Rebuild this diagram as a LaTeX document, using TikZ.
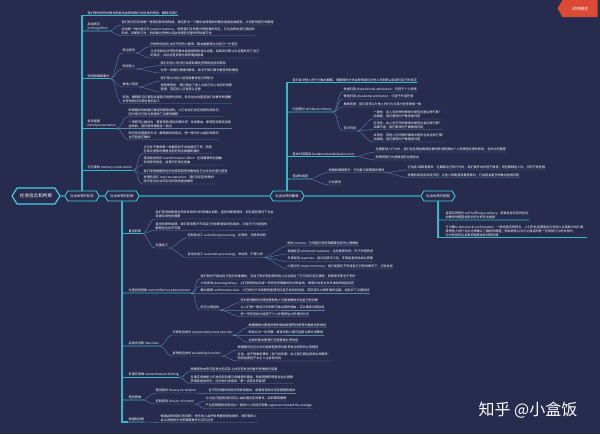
\documentclass[tikz,border=0pt]{standalone}
\usepackage{fontspec}
\setmainfont{Noto Sans CJK SC}
\usetikzlibrary{shapes.symbols}
\definecolor{navy}{HTML}{272C4F}
\definecolor{lead}{HTML}{36B8C8}
\definecolor{rim}{HTML}{45D3E3}
\definecolor{twigc}{HTML}{5C82A6}
\definecolor{tagred}{HTML}{DB4A35}
\tikzset{
  hexa/.style={signal, signal to=east and west, signal pointer angle=115, draw=rim, line width=0.8pt, fill=navy, text=white, font=\fontsize{3.3}{4}\selectfont, inner xsep=2.5pt, inner ysep=1pt, minimum height=10pt, minimum width=31pt},
  rootnode/.style={hexa, font=\fontsize{4.6}{5.5}\selectfont, minimum height=16pt, minimum width=48pt, line width=1.1pt},
  lbl/.style={anchor=south west, inner xsep=0.5pt, inner ysep=0.8pt, text=white!90, font=\fontsize{3.1}{4}\selectfont, align=left},
  trunk/.style={draw=lead, line width=1.1pt},
  stem/.style={draw=lead, line width=0.55pt, rounded corners=1.5pt, to path={|- (\tikztotarget.south west) -- (\tikztotarget.south east)}},
  link/.style={draw=twigc, line width=0.4pt, to path={.. controls +(6,0) and +(-6,0) .. (\tikztotarget.south west) -- (\tikztotarget.south east)}}}

\begin{document}
\begin{tikzpicture}[x=1pt, y=-1pt]
\useasboundingbox (0,0) rectangle (600,434);
\fill[navy] (0,0) rectangle (600,434);

\node[rootnode] (root) at (36,196) {社会信念和判断};
\node[hexa] (n1) at (82,196) {社会世界的知觉};
\node[hexa] (n2) at (122,196) {社会世界的判断};
\node[hexa] (n3) at (287,196) {社会世界的解释};
\node[hexa] (n4) at (438,196) {社会世界的预期};
\draw[trunk] (root) -- (n1) -- (n2) -- (n3) -- (n4);

\node[lbl] (t0) at (87,15.5) {我们预先持有的假设和信念会影响我们对信息的知觉、解释与回忆};
\node[lbl] (p1) at (87,31) {启动效应\\priming effect};
\node[lbl] (p1a) at (121,25) {我们的记忆系统是一张相互联系的网络，激活其中一个概念会使相关的概念更容易被提取，从而影响我们的解释};
\node[lbl] (p1b) at (121,35.7) {启动是一种内隐记忆 implicit memory，即使我们没有意识到刺激的存在，它也会影响我们随后的\\知觉、判断和行为，例如看过恐怖片后会觉得房间里的声响更可怕};
\node[lbl] (p2) at (87,78.5) {知觉和解释事件};
\node[lbl] (s1) at (122,53) {政治知觉};
\node[lbl] (s1a) at (150,46.5) {同样的信息在立场不同的人看来，都会被解读为对自己一方有利};
\node[lbl] (s1b) at (150,58) {让支持和反对死刑的被试阅读相同的混合证据，结果双方都认为证据支持了自己\\的观点，并且态度变得比原来更加极端};
\node[lbl] (s2) at (122,69) {知觉他人};
\node[lbl] (s2a) at (160,65.5) {我们对他人的评价会受到事先获得的信息的影响};
\node[lbl] (s2b) at (160,73) {对同一张面孔表情的解读，取决于我们事先被告知的情境};
\node[lbl] (s3) at (122,87) {被他人知觉};
\node[lbl] (s3a) at (160,81) {我们常以为别人能轻易看穿自己的想法};
\node[lbl] (s3b) at (160,92) {透明度错觉：我们高估了他人对自己内心状态的觉察\\程度，其实别人没有那么在意};
\node[lbl] (s4) at (122,103.5) {知觉、解释和记忆都包含着我们的预先判断，信念往往会塑造我们对事件的理解\\并影响我们对新信息的加工};
\node[lbl] (p3) at (87,128.5) {信念固着\\belief perseverance};
\node[lbl] (p3a) at (128,116.5) {即使最初的依据已被证明是错误的，人们往往仍会坚持原有的信念，\\因为他们已经为其建构了合理的解释};
\node[lbl] (p3b) at (128,128.5) {一项研究让被试为“爱冒险的消防员更优秀”寻找理由，即使告知其信息是\\虚构的，他们依然相信这一结论};
\node[lbl] (p3c) at (128,139.5) {矫正信念固着的方法：解释相反的观点，想一想为什么相反的情况\\也可能是正确的};
\node[lbl] (p4) at (87,170.5) {记忆建构 memory construction};
\node[lbl] (p4a) at (143,153.5) {记忆并不像录像一样被原封不动地储存下来，而是\\在每次提取时根据当前的信念被重新建构};
\node[lbl] (p4b) at (143,165) {错误信息效应 misinformation effect：在目睹事件后接触\\到误导性信息，会使记忆发生扭曲};
\node[lbl] (p4c) at (143,173.5) {我们常常根据现在的态度和感受来重构自己过去的态度与感受};
\node[lbl] (p4d) at (143,184) {玫瑰色回忆 rosy retrospection：我们回忆起的美好\\经历往往比当时实际的体验更加愉快};

\draw[trunk] (n1.north) |- (t0.south west);
\draw[stem] (n1.north) to (t0); \draw[stem] (n1.north) to (p1); \draw[stem] (n1.north) to (p2); \draw[stem] (n1.north) to (p3); \draw[stem] (n1.north) to (p4);
\draw[link] (p1.south east) to (p1a); \draw[link] (p1.south east) to (p1b);
\draw[link] (p2.south east) to (s1); \draw[link] (p2.south east) to (s2); \draw[link] (p2.south east) to (s3); \draw[link] (p2.south east) to (s4);
\draw[link] (s1.south east) to (s1a); \draw[link] (s1.south east) to (s1b);
\draw[link] (s2.south east) to (s2a); \draw[link] (s2.south east) to (s2b);
\draw[link] (s3.south east) to (s3a); \draw[link] (s3.south east) to (s3b);
\draw[link] (p3.south east) to (p3a); \draw[link] (p3.south east) to (p3b); \draw[link] (p3.south east) to (p3c);
\draw[link] (p4.south east) to (p4a); \draw[link] (p4.south east) to (p4b); \draw[link] (p4.south east) to (p4c); \draw[link] (p4.south east) to (p4d);

\node[lbl] (q1) at (128,233.5) {直觉判断};
\node[lbl] (q1a) at (155,219) {我们常常依赖直觉而非系统的分析来做出判断，直觉判断速度快，但在某些情况下也会\\导致系统性的偏差};
\node[lbl] (q1b) at (155,230.5) {直觉判断的局限：我们常常意识不到自己的判断是如何形成的，对自己行为原因的\\解释往往并不可靠};
\node[lbl] (q1s) at (155,248) {双重加工};
\node[lbl] (q1s1) at (187,238) {控制性加工 controlled processing：反思的、深思熟虑的};
\node[lbl] (q1s2) at (187,257.5) {自动化加工 automatic processing：冲动的、不费力的};
\node[lbl] (g1) at (287,245.8) {图式 schema：引导我们知觉和解释信息的心理模板};
\node[lbl] (g2) at (287,254) {情绪反应 emotional reactions：往往是即时的，先于深思熟虑};
\node[lbl] (g3) at (287,261.5) {专家经验 expertise：经过足够学习后，专家能直觉地给出答案};
\node[lbl] (g4) at (287,269) {内隐记忆 implicit memory：我们能够在不知道自己已知的情况下，记住信息};
\node[lbl] (q2) at (128,293) {过度自信现象 overconfidence phenomenon};
\node[lbl] (o1) at (200,279) {我们倾向于高估自己信念的准确性，对自己知识和判断的信心往往超过了它们的实际正确率，即使是专家也不例外};
\node[lbl] (o2) at (200,286.5) {计划谬误 planning fallacy：人们常常低估完成一项任务所需要的时间和金钱，即使过去有过许多类似的拖延经历};
\node[lbl] (o3) at (200,293) {确认偏差 confirmation bias：人们倾向于寻找那些能够支持自己信念的信息，而忽视与之相矛盾的证据，这助长了过度自信};
\node[lbl] (o4) at (200,310) {矫正过度自信};
\node[lbl] (o4a) at (240,302.5) {及时而清晰的反馈能够帮助人们更准确地评估自己的判断};
\node[lbl] (o4b) at (240,310) {让人们想一想自己的判断可能出错的理由，可以降低过度自信};
\node[lbl] (o4c) at (240,316.5) {把一项任务拆分成若干个小步骤来估计所需的时间};
\node[lbl] (q3) at (128,346) {启发式判断 heuristics};
\node[lbl] (r1) at (172,335) {代表性启发式 representativeness heuristic};
\node[lbl] (r1a) at (248,327.5) {根据事物与典型样例的相似程度来判断其所属类别的倾向};
\node[lbl] (r1b) at (248,335) {例如认为一位安静、爱读诗的人更可能是古典文学教授};
\node[lbl] (r1c) at (248,342.5) {这种判断会使我们忽视基础比率信息};
\node[lbl] (r2) at (172,356) {易得性启发式 availability heuristic};
\node[lbl] (r2a) at (237,350) {根据事件在记忆中的易得程度来判断其发生频率的认知规则};
\node[lbl] (r2b) at (237,361) {生动、易于想象的事件（如飞机失事）会让我们高估其发生的概率，\\而低估那些不太引人注目的风险};
\node[lbl] (q4) at (128,377.5) {反事实思维 counterfactual thinking};
\node[lbl] (f1) at (190,371.5) {想象那些本来可能发生但实际上并没有发生的替代性情境与结果};
\node[lbl] (f2) at (190,383.5) {反事实思维是人们体验到后悔与幸福感的基础，例如铜牌获得者往往比银牌\\获得者更加快乐，因为他们会想到“差一点就没有奖牌”};
\node[lbl] (q5) at (128,400) {错觉思维};
\node[lbl] (r3) at (155,393) {错觉相关 illusory correlation};
\node[lbl] (r3a) at (208,393) {在不存在相关的地方知觉到相关，或者知觉到比实际更强的相关};
\node[lbl] (r4) at (155,404) {控制错觉 illusion of control};
\node[lbl] (r4a) at (205,401) {认为自己能够控制实际上由机遇决定的事件，如彩票和赌博};
\node[lbl] (r4b) at (205,408.5) {产生控制错觉的原因之一是统计上的回归现象 regression toward the average};
\node[lbl] (q6) at (128,422) {情绪和判断};
\node[lbl] (e1) at (160,422.5) {情绪会影响我们的判断：快乐的人会把世界看得更加美好，而抑郁的人\\会以消极的方式来解释事件与记忆过去};

\draw[trunk] (n2.south) |- (q6.south west);
\draw[stem] (n2.south) to (q1); \draw[stem] (n2.south) to (q2); \draw[stem] (n2.south) to (q3); \draw[stem] (n2.south) to (q4); \draw[stem] (n2.south) to (q5); \draw[stem] (n2.south) to (q6);
\draw[link] (q1.south east) to (q1a); \draw[link] (q1.south east) to (q1b); \draw[link] (q1.south east) to (q1s);
\draw[link] (q1s.south east) to (q1s1); \draw[link] (q1s.south east) to (q1s2);
\draw[link] (q1s2.south east) to (g1); \draw[link] (q1s2.south east) to (g2); \draw[link] (q1s2.south east) to (g3); \draw[link] (q1s2.south east) to (g4);
\draw[link] (q2.south east) to (o1); \draw[link] (q2.south east) to (o2); \draw[link] (q2.south east) to (o3); \draw[link] (q2.south east) to (o4);
\draw[link] (o4.south east) to (o4a); \draw[link] (o4.south east) to (o4b); \draw[link] (o4.south east) to (o4c);
\draw[link] (q3.south east) to (r1); \draw[link] (q3.south east) to (r2);
\draw[link] (r1.south east) to (r1a); \draw[link] (r1.south east) to (r1b); \draw[link] (r1.south east) to (r1c);
\draw[link] (r2.south east) to (r2a); \draw[link] (r2.south east) to (r2b);
\draw[link] (q4.south east) to (f1); \draw[link] (q4.south east) to (f2);
\draw[link] (q5.south east) to (r3); \draw[link] (q5.south east) to (r4);
\draw[link] (r3.south east) to (r3a); \draw[link] (r4.south east) to (r4a); \draw[link] (r4.south east) to (r4b);
\draw[link] (q6.south east) to (e1);

\node[lbl] (u0) at (292,82.5) {我们会对他人的行为做出解释，而解释的方式会影响我们对他人的判断以及我们自己的反应};
\node[lbl] (u1) at (292,112) {归因理论 attribution theory};
\node[lbl] (u1a) at (343,92) {性格归因 dispositional attribution：归因于个人特质};
\node[lbl] (u1b) at (343,99) {情境归因 situational attribution：归因于外部环境};
\node[lbl] (u1c) at (343,107) {推断特质：我们常常认为他人的行为与其内在特质相一致};
\node[lbl] (u1d) at (343,131) {常识归因};
\node[lbl] (k1) at (373,119) {一致性：此人在同样的情境中是否总是这样行事？\\如果是，我们更倾向于做性格归因};
\node[lbl] (k2) at (373,129.5) {区别性：此人在不同的情境中是否也会这样行事？\\如果不是，我们更倾向于做情境归因};
\node[lbl] (k3) at (373,142) {共同性：其他人在同样的情境中是否也会这样行事？\\如果是，我们更倾向于做情境归因};
\node[lbl] (u2) at (292,156.5) {基本归因错误 fundamental attribution error};
\node[lbl] (u2a) at (375,152) {在解释他人行为时，我们往往低估情境因素的影响而高估个人特质和态度的影响，也叫对应偏差};
\node[lbl] (u2b) at (375,160) {即使明知行为是被迫的也是如此};
\node[lbl] (u3) at (292,179) {错误的成因};
\node[lbl] (v1) at (328,172.5) {视角和情境意识：行动者与观察者的差异};
\node[lbl] (v1a) at (407,170) {行动者-观察者差异：在解释自己的行为时，我们更多地归因于情境；而在解释他人时，归因于其性格};
\node[lbl] (v1b) at (407,177.5) {视角的改变会改变归因：从他人的角度观看录像时，行动者会更多地做出性格归因};
\node[lbl] (v2) at (328,185) {文化差异};

\draw[trunk] (n3.north) |- (u0.south west);
\draw[stem] (n3.north) to (u0); \draw[stem] (n3.north) to (u1); \draw[stem] (n3.north) to (u2); \draw[stem] (n3.north) to (u3);
\draw[link] (u1.south east) to (u1a); \draw[link] (u1.south east) to (u1b); \draw[link] (u1.south east) to (u1c); \draw[link] (u1.south east) to (u1d);
\draw[link] (u1d.south east) to (k1); \draw[link] (u1d.south east) to (k2); \draw[link] (u1d.south east) to (k3);
\draw[link] (u2.south east) to (u2a); \draw[link] (u2.south east) to (u2b);
\draw[link] (u3.south east) to (v1); \draw[link] (u3.south east) to (v2);
\draw[link] (v1.south east) to (v1a); \draw[link] (v1.south east) to (v1b);

\node[lbl] (w1) at (445,220) {自我实现预言 self-fulfilling prophecy：导致自身实现的信念\\如教师的期望会影响学生的学业成绩};
\node[lbl] (w2) at (445,237.5) {行为确认 behavioral confirmation：一种自我实现预言，人们的社会期望会引导他人以某种方式行事，\\使得他人的行为反过来确认了最初的期望；例如男性认为与之通话的是一位有吸引力的女性时，\\对方的回应也会表现得更加友好和热情};
\draw[trunk] (n4.south) |- (w2.south west);
\draw[stem] (n4.south) to (w1); \draw[stem] (n4.south) to (w2);

\node[signal, signal to=west, signal pointer angle=120, fill=tagred, text=white, minimum width=40pt, minimum height=17pt, inner sep=0pt, font=\fontsize{4}{5}\selectfont] (tag) at (580,8.5) {试用模式};
\node[text=white, inner sep=0pt, font=\fontsize{16}{18}\selectfont] (mark) at (528,410) {知乎 @小盒饭};
\end{tikzpicture}
\end{document}
